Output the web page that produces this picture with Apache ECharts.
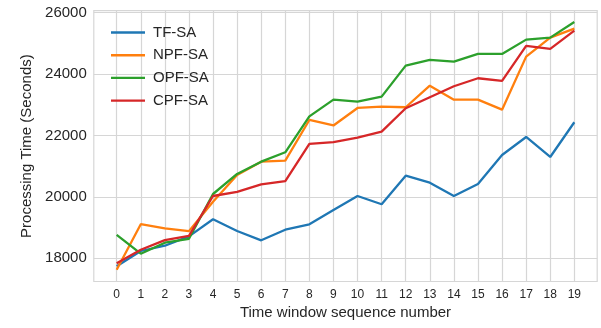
<!DOCTYPE html>
<html>
<head>
<meta charset="utf-8">
<script src="https://cdn.jsdelivr.net/npm/echarts@6/dist/echarts.min.js"></script>
<style>
html,body{margin:0;padding:0;background:#fff;}
#chart{width:601px;height:328px;}
</style>
</head>
<body>
<div id="chart"></div>
<script>
const categories = [0,1,2,3,4,5,6,7,8,9,10,11,12,13,14,15,16,17,18,19];
const seriesNames = ['TF-SA','NPF-SA','OPF-SA','CPF-SA'];
const tfSA  = [17740,18238,18410,18715,19270,18889,18586,18932,19107,19573,20029,19759,20690,20462,20029,20420,21365,21951,21299,22430];
const npfSA = [17630,19110,18977,18885,19843,20713,21146,21179,22504,22325,22895,22938,22918,23622,23166,23166,22840,24566,25185,25478];
const opfSA = [18765,18150,18508,18635,20094,20746,21146,21452,22620,23165,23100,23263,24273,24459,24404,24654,24654,25120,25185,25696];
const cpfSA = [17840,18280,18590,18730,20029,20164,20410,20513,21723,21783,21928,22123,22886,23244,23602,23863,23775,24915,24817,25413];
const yTicks = [18000,20000,22000,24000,26000];

const colors = ['#1f77b4','#ff7f0e','#2ca02c','#d62728'];
const allData = [tfSA, npfSA, opfSA, cpfSA];
const font = '"Liberation Sans", Arial, sans-serif';
const gridColor = '#d6d6d6';

const chart = echarts.init(document.getElementById('chart'), null, {renderer:'canvas'});
chart.setOption({
  animation: false,
  backgroundColor: '#ffffff',
  color: colors,
  grid: {left: 93.8, right: 3.8, top: 10.7, bottom: 46.5, show: true, borderColor: gridColor, borderWidth: 1.2, containLabel: false},
  legend: {
    orient: 'vertical', left: 106, top: 20,
    icon: 'rect', itemWidth: 34, itemHeight: 2.4, itemGap: 7.7,
    textStyle: {fontFamily: font, fontSize: 15, color: '#262626', lineHeight: 15, padding: [0,0,0,3]},
    data: seriesNames
  },
  xAxis: {
    type: 'value', min: -0.95, max: 19.95,
    name: 'Time window sequence number', nameLocation: 'middle', nameGap: 23,
    nameTextStyle: {fontFamily: font, fontSize: 15, color: '#262626'},
    axisLine: {show: false},
    axisTick: {show: false, customValues: categories},
    axisLabel: {customValues: categories, fontFamily: font, fontSize: 12, color: '#262626', margin: 7},
    splitLine: {show: true, lineStyle: {color: gridColor, width: 1.2}}
  },
  yAxis: {
    type: 'value', min: 17245, max: 26062,
    name: 'Processing Time (Seconds)', nameLocation: 'middle', nameGap: 54,
    nameTextStyle: {fontFamily: font, fontSize: 15, color: '#262626'},
    axisLine: {show: false},
    axisTick: {show: false, customValues: yTicks},
    axisLabel: {customValues: yTicks, formatter: v => String(Math.round(v)), fontFamily: font, fontSize: 15, color: '#262626', margin: 7},
    splitLine: {show: true, lineStyle: {color: gridColor, width: 1.2}}
  },
  series: seriesNames.map((n, i) => ({
    name: n, type: 'line', symbol: 'none',
    lineStyle: {width: 2.3, color: colors[i]},
    itemStyle: {color: colors[i]},
    data: categories.map((c, j) => [c, allData[i][j]])
  }))
});
</script>
</body>
</html>
